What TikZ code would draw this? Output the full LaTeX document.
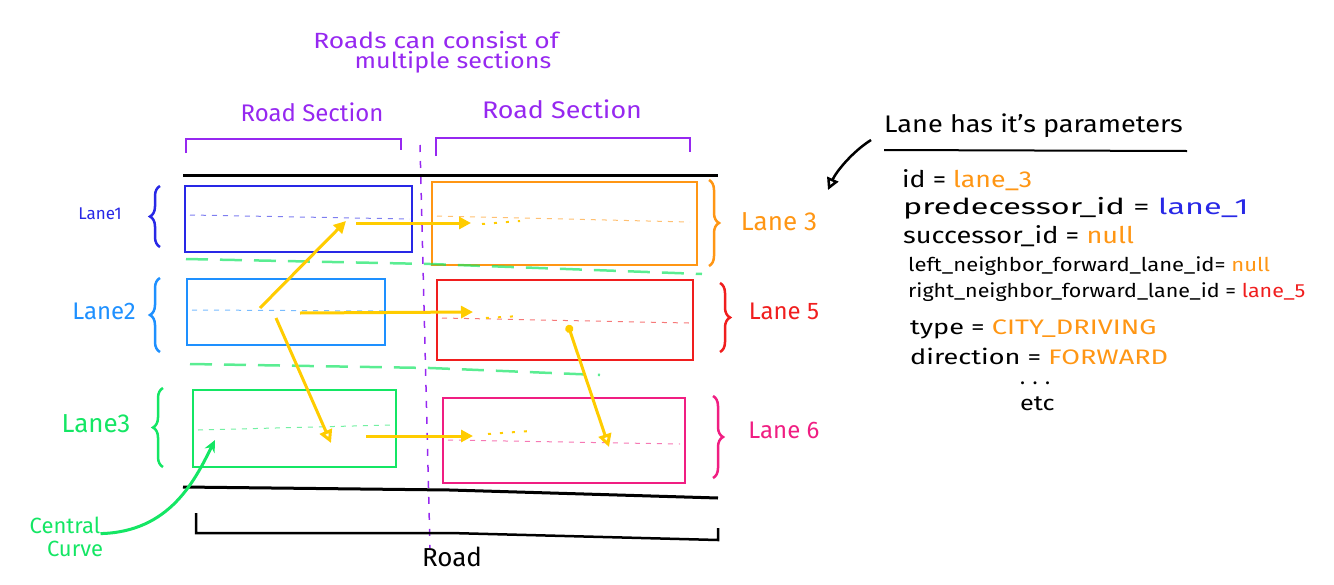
\documentclass[tikz,border=0pt]{standalone}
\usepackage{fontspec}
\usepackage{graphicx}
\setmainfont{Fira Sans}
\usetikzlibrary{arrows.meta}
\usetikzlibrary{decorations.pathreplacing}

\definecolor{purplec}{RGB}{150,40,240}
\definecolor{blueone}{RGB}{40,40,230}
\definecolor{bluetwo}{RGB}{30,144,255}
\definecolor{greenc}{RGB}{20,230,100}
\definecolor{orangec}{RGB}{255,150,20}
\definecolor{redc}{RGB}{240,30,30}
\definecolor{pinkc}{RGB}{240,30,130}
\definecolor{yellowc}{RGB}{255,204,0}
\newcommand{\handfs}[1]{\fontsize{#1}{#1}\selectfont}
\newcommand{\hw}[2]{\scalebox{#1}[1]{#2}}

\tikzset{
    lanebox/.style={draw, line width=2.5pt, inner sep=0pt},
    midline/.style={line width=1pt, dash pattern=on 5pt off 6pt, opacity=0.6},
    sepline/.style={draw=greenc, line width=2.5pt, dash pattern=on 22pt off 12pt, opacity=0.7},
    yarrow/.style={draw=yellowc, line width=3pt, -{Triangle[length=12pt,width=12pt]}},
    yarrowopen/.style={draw=yellowc, line width=3pt, -{Triangle[open,length=13pt,width=13pt]}},
    lanebrace/.style={decorate, decoration={brace, amplitude=10pt}, line width=2.5pt},
    laneLabel/.style={inner sep=0pt, font=\handfs{24}},
    param/.style={anchor=base west, inner sep=0pt, font=\handfs{21}}
}

\begin{document}
\begin{tikzpicture}[x=1pt, y=-1pt]
        \useasboundingbox (0,0) rectangle (1334,584);

        % title and road sections
        \node[text=purplec, font=\handfs{22}, inner sep=0pt] (title1) at (436,40) {\hw{1.2}{Roads can consist of}};
        \node[text=purplec, font=\handfs{22}, inner sep=0pt] (title2) at (453,62) {\hw{1.14}{multiple sections}};
        \node[text=purplec, font=\handfs{24}] (sec1) at (312,112) {Road Section};
        \node[text=purplec, font=\handfs{24}] (sec2) at (562,109) {\hw{1.12}{Road Section}};
        \draw[purplec, line width=2.5pt] (186,153) |- (401,139) -- (401,150);
        \draw[purplec, line width=2.5pt] (436,156) |- (690,138) -- (690,152);
        \draw[purplec, line width=1.5pt, dash pattern=on 7pt off 9pt] (420,145) -- (430,548);

        % road borders
        \draw[black, line width=3pt] (183,175) -- (718,175);
        \draw[black, line width=3pt] (183,487) -- (450,490) -- (718,498);
        \draw[black, line width=2.5pt] (196,513) |- (450,533) -- (718,540) -- (718,528);
        \node[font=\handfs{26}] (road) at (452,557) {Road};

        % lanes
        \node[lanebox, draw=blueone, minimum width=227pt, minimum height=66pt] (l1) at (298.5,219) {};
        \node[lanebox, draw=bluetwo, minimum width=198pt, minimum height=66pt] (l2) at (286,312) {};
        \node[lanebox, draw=greenc, minimum width=203pt, minimum height=77pt] (l3) at (294.5,428.5) {};
        \node[lanebox, draw=orangec, minimum width=265pt, minimum height=83pt] (r3) at (564.5,223.5) {};
        \node[lanebox, draw=redc, minimum width=256pt, minimum height=80pt] (r5) at (565,320) {};
        \node[lanebox, draw=pinkc, minimum width=242pt, minimum height=85pt] (r6) at (564,440.5) {};

        % central curves
        \draw[midline, blueone] (190,215) -- (410,219);
        \draw[midline, bluetwo] (192,310) -- (384,311);
        \draw[midline, greenc] (198,430) -- (392,425);
        \draw[midline, orangec] (437,216) -- (690,222);
        \draw[midline, redc] (442,318) -- (689,323);
        \draw[midline, pinkc] (448,440) -- (680,444);

        % lane separators
        \draw[sepline] (186,259) -- (430,264) -- (702,274);
        \draw[sepline] (190,364) -- (430,368) -- (600,375);

        % braces and labels
        \draw[lanebrace, blueone] (160,247) -- (160,186);
        \draw[lanebrace, bluetwo] (160,352) -- (160,278);
        \draw[lanebrace, greenc] (163,467) -- (163,388);
        \draw[lanebrace, orangec] (709,180) -- (709,266);
        \draw[lanebrace, redc] (720,283) -- (720,352);
        \draw[lanebrace, pinkc] (713,396) -- (713,478);
        \node[laneLabel, text=blueone, font=\handfs{17}] (lab1) at (100,214) {Lane1};
        \node[laneLabel, text=bluetwo] (lab2) at (104,311) {Lane2};
        \node[laneLabel, text=greenc, font=\handfs{26}] (lab3) at (96,424) {Lane3};
        \node[laneLabel, text=orangec, font=\handfs{26}] (labr3) at (779,222) {Lane 3};
        \node[laneLabel, text=redc] (labr5) at (784,311) {Lane 5};
        \node[laneLabel, text=pinkc] (labr6) at (784,430) {Lane 6};

        % links between lanes
        \coordinate (a) at (260,308);
        \coordinate (b) at (346,221);
        \coordinate (c) at (276,318);
        \coordinate (d) at (331,443);
        \coordinate (e) at (356,223);
        \coordinate (f) at (471,223);
        \coordinate (g) at (300,313);
        \coordinate (h) at (473,312);
        \coordinate (i) at (366,436);
        \coordinate (j) at (473,436);
        \coordinate (k) at (568,325);
        \coordinate (m) at (609,447);
        \draw[yarrow] (a) -- (b);
        \draw[yarrowopen] (c) -- (d);
        \draw[yarrow] (e) -- (f);
        \draw[yarrow] (g) -- (h);
        \draw[yarrow] (i) -- (j);
        \draw[yarrowopen, {Circle[length=8pt]}-{Triangle[open,length=13pt,width=13pt]}] (k) -- (m);
        \draw[yellowc, line width=2pt, dash pattern=on 3pt off 9pt] (482,224) -- (520,221);
        \draw[yellowc, line width=2pt, dash pattern=on 3pt off 9pt] (486,318) -- (520,316);
        \draw[yellowc, line width=2pt, dash pattern=on 3pt off 9pt] (488,434) -- (530,431);

        % central curve note
        \node[text=greenc, font=\handfs{22}, inner sep=0pt] (cc) at (65,525) {Central};
        \node[text=greenc, font=\handfs{22}, inner sep=0pt] (cc2) at (75,549) {Curve};
        \coordinate (ccend) at (215,440);
        \draw[greenc, line width=3pt, -{Stealth[length=12pt,width=11pt]}] (cc.south east) .. controls (170,532) and (195,480) .. (ccend);

        % lane parameters
        \node[anchor=base west, inner sep=0pt, font=\handfs{24}] (partitle) at (884,132) {\hw{1.13}{Lane has it's parameters}};
        \draw[black, line width=2pt] (884,150) -- (1187,151);
        \coordinate (parend) at (828,190);
        \draw[black, line width=2.5pt, -{Triangle[open,length=12pt,width=12pt]}] (871,140) .. controls (852,152) and (836,172) .. (parend);
        \node[param, font=\handfs{23}] (p1) at (902,187) {\hw{1.16}{id = \textcolor{orangec}{lane\_3}}};
        \node[param, font=\handfs{22}] (p2) at (903,214) {\hw{1.47}{predecessor\_id = \textcolor{blueone}{lane\_1}}};
        \node[param, font=\handfs{23}] (p3) at (903,243) {\hw{1.18}{successor\_id = \textcolor{orangec}{null}}};
        \node[param, font=\handfs{19}] (p4) at (908,271) {\hw{1.16}{left\_neighbor\_forward\_lane\_id= \textcolor{orangec}{null}}};
        \node[param, font=\handfs{19}] (p5) at (908,297) {\hw{1.13}{right\_neighbor\_forward\_lane\_id = \textcolor{redc}{lane\_5}}};
        \node[param] (p6) at (910,334) {\hw{1.29}{type = \textcolor{orangec}{CITY\_DRIVING}}};
        \node[param] (p7) at (910,364) {\hw{1.29}{direction = \textcolor{orangec}{FORWARD}}};
        \node[param] (p8) at (1020,384) {. . .};
        \node[param] (p9) at (1020,410) {\hw{1.2}{etc}};
    \end{tikzpicture}
\end{document}
